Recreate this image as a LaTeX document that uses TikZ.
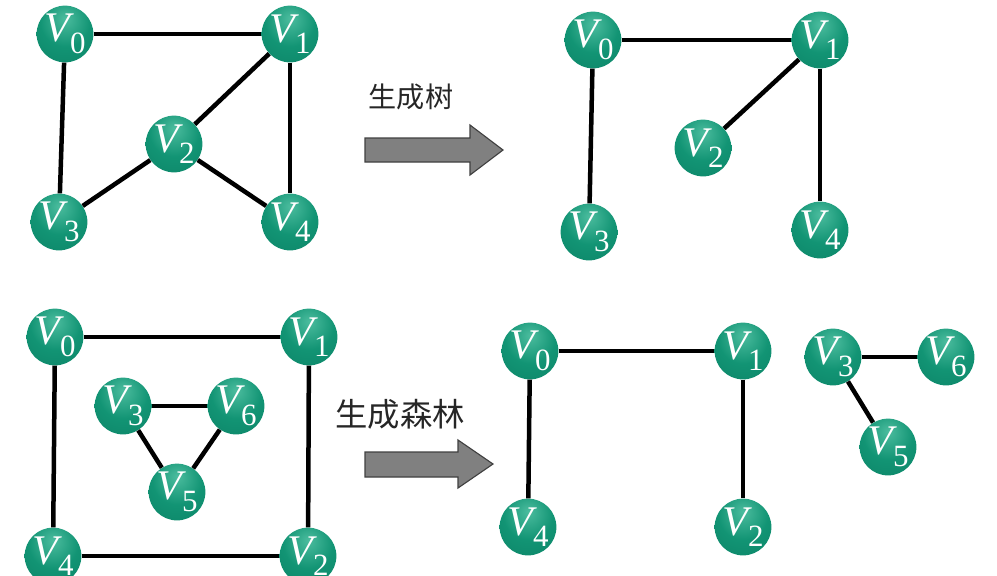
\documentclass[tikz,border=0pt]{standalone}
\usepackage{fontspec}
\setmainfont{Liberation Serif}
\newfontfamily\policeV{Liberation Serif}
\newfontfamily\cjk{Noto Sans CJK SC}
\definecolor{vclair}{RGB}{75,188,158}
\definecolor{vmoyen}{RGB}{18,148,116}
\definecolor{vfonce}{RGB}{0,96,74}
\definecolor{grisfleche}{RGB}{128,128,128}
\pgfdeclareradialshading{boule}{\pgfpoint{0bp}{14bp}}{color(0bp)=(vclair); color(22bp)=(vmoyen); color(44bp)=(vmoyen!70!vfonce); color(62bp)=(vfonce); color(100bp)=(vfonce)}
\newcommand{\som}[1]{\policeV\fontsize{30}{30}\selectfont\itshape V\upshape\raisebox{-0.27em}{\fontsize{22}{22}\selectfont #1}}

\begin{document}
\begin{tikzpicture}[x=0.025cm,y=-0.025cm,
	sommet/.style={circle, minimum size=1.4cm, inner sep=0pt, shading=boule, text=white},
	arete/.style={line width=3.2pt, black},
	fleche/.style={fill=grisfleche, draw=black!75, line width=0.8pt, line join=miter},
	titre/.style={text=black!85}]
	\useasboundingbox (0,0) rectangle (997,575);
	%graphe 1
	\node[sommet] (a0) at (65,34) {\som{0}};
	\node[sommet] (a1) at (290,34) {\som{1}};
	\node[sommet] (a2) at (174,144) {\som{2}};
	\node[sommet] (a3) at (59,222) {\som{3}};
	\node[sommet] (a4) at (290,222) {\som{4}};
	\draw[arete] (a0) -- (a1);
	\draw[arete] (a0) -- (a3);
	\draw[arete] (a1) -- (a4);
	\draw[arete] (a1) -- (a2);
	\draw[arete] (a2) -- (a3);
	\draw[arete] (a2) -- (a4);
	%fleche 1
	\node[titre] (t1) at (411,97) {\cjk\fontsize{20}{20}\selectfont 生成树};
	\draw[fleche] (365,138) -- (470,138) -- (470,125) -- (503,150) -- (470,175) -- (470,162) -- (365,162) -- cycle;
	%arbre
	\node[sommet] (b0) at (593,40) {\som{0}};
	\node[sommet] (b1) at (820,40) {\som{1}};
	\node[sommet] (b2) at (703,148) {\som{2}};
	\node[sommet] (b3) at (589,232) {\som{3}};
	\node[sommet] (b4) at (820,230) {\som{4}};
	\draw[arete] (b0) -- (b1);
	\draw[arete] (b0) -- (b3);
	\draw[arete] (b1) -- (b4);
	\draw[arete] (b1) -- (b2);
	%graphe 2
	\node[sommet] (c0) at (55,337) {\som{0}};
	\node[sommet] (c1) at (309,337) {\som{1}};
	\node[sommet] (c3) at (123,406) {\som{3}};
	\node[sommet] (c6) at (236,406) {\som{6}};
	\node[sommet] (c5) at (177,492) {\som{5}};
	\node[sommet] (c4) at (53,556) {\som{4}};
	\node[sommet] (c2) at (308,556) {\som{2}};
	\draw[arete] (c0) -- (c1);
	\draw[arete] (c0) -- (c4);
	\draw[arete] (c1) -- (c2);
	\draw[arete] (c4) -- (c2);
	\draw[arete] (c3) -- (c6);
	\draw[arete] (c3) -- (c5);
	\draw[arete] (c6) -- (c5);
	%fleche 2
	\node[titre] (t2) at (400,414) {\cjk\fontsize{23}{23}\selectfont 生成森林};
	\draw[fleche] (365,452) -- (458,452) -- (458,440) -- (493,464) -- (458,488) -- (458,477) -- (365,477) -- cycle;
	%foret
	\node[sommet] (d0) at (530,351) {\som{0}};
	\node[sommet] (d1) at (743,351) {\som{1}};
	\node[sommet] (d3) at (833,357) {\som{3}};
	\node[sommet] (d6) at (946,357) {\som{6}};
	\node[sommet] (d5) at (888,447) {\som{5}};
	\node[sommet] (d4) at (528,527) {\som{4}};
	\node[sommet] (d2) at (743,527) {\som{2}};
	\draw[arete] (d0) -- (d1);
	\draw[arete] (d0) -- (d4);
	\draw[arete] (d1) -- (d2);
	\draw[arete] (d3) -- (d6);
	\draw[arete] (d3) -- (d5);
\end{tikzpicture}
\end{document}
